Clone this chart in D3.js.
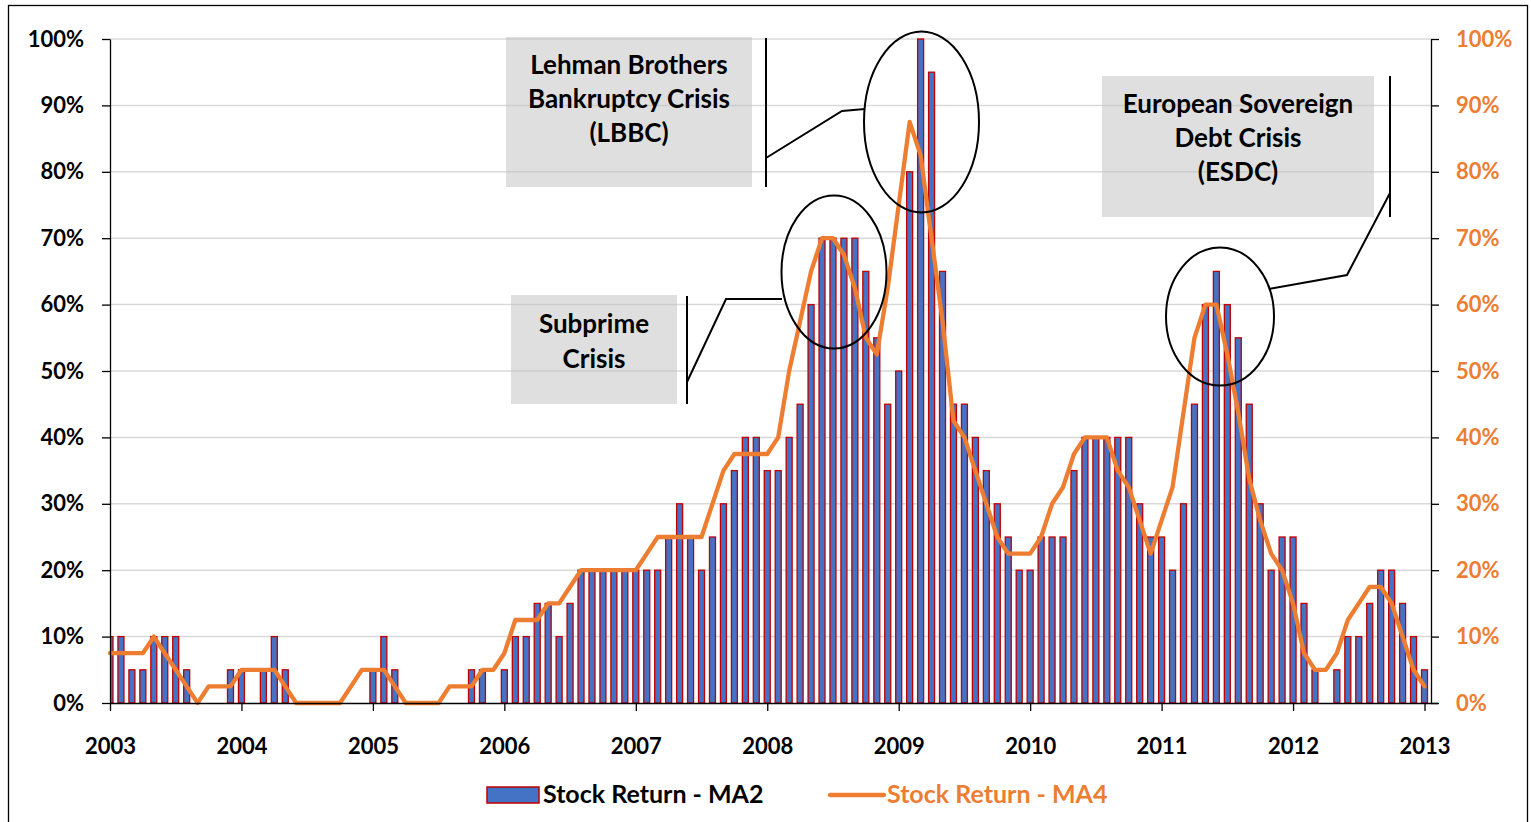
<!DOCTYPE html>
<html>
<head>
<meta charset="utf-8">
<script src="https://cdn.jsdelivr.net/npm/d3@7"></script>
<style>
  body { margin: 0; background: #fff; }
  svg { display: block; font-family: Lato, "Open Sans", sans-serif; font-weight: bold; }
</style>
</head>
<body>
<div id="grafico"></div>
<script>
// 1. Datos (mensual, ene 2003 - ene 2013)
YEARS = ['2003','2004','2005','2006','2007','2008','2009','2010','2011','2012','2013']
PCT_TICKS = [0, 0.1, 0.2, 0.3, 0.4, 0.5, 0.6, 0.7, 0.8, 0.9, 1.0]

MA2 = [
  10,10,5,5,10,10,10,5,0,0,0,5,          // 2003
  5,0,5,10,5,0,0,0,0,0,0,0,              // 2004
  5,10,5,0,0,0,0,0,0,5,5,0,              // 2005
  5,10,10,15,15,10,15,20,20,20,20,20,    // 2006
  20,20,20,25,30,25,20,25,30,35,40,40,   // 2007
  35,35,40,45,60,70,70,70,70,65,55,45,   // 2008
  50,80,100,95,65,45,45,40,35,30,25,20,  // 2009
  20,25,25,25,35,40,40,40,40,40,30,25,   // 2010
  25,20,30,45,60,65,60,55,45,30,20,25,   // 2011
  25,15,5,0,5,10,10,15,20,20,15,10,      // 2012
  5                                      // 2013
]

MA4 = [
  7.5,7.5,7.5,7.5,10,7.5,5,2.5,0,2.5,2.5,2.5,
  5,5,5,5,2.5,0,0,0,0,0,2.5,5,
  5,5,2.5,0,0,0,0,2.5,2.5,2.5,5,5,
  7.5,12.5,12.5,12.5,15,15,17.5,20,20,20,20,20,
  20,22.5,25,25,25,25,25,30,35,37.5,37.5,37.5,
  37.5,40,50,57.5,65,70,70,67.5,62.5,55,52.5,62.5,
  75,87.5,82.5,70,57.5,42.5,40,35,30,25,22.5,22.5,
  22.5,25,30,32.5,37.5,40,40,40,35,32.5,27.5,22.5,
  27.5,32.5,43.75,55,60,60,52.5,43.75,33.75,27.5,22.5,20,
  15,7.5,5,5,7.5,12.5,15,17.5,17.5,15,10,5,
  2.5
]

SERIES_NAMES = ['Stock Return - MA2', 'Stock Return - MA4']

ANOTACIONES = [
  { lineas: ['Lehman Brothers', 'Bankruptcy Crisis', '(LBBC)'] },
  { lineas: ['Subprime', 'Crisis'] },
  { lineas: ['European Sovereign', 'Debt Crisis', '(ESDC)'] }
]

// 2. Configuración
COLOR_BARRA   = '#4472C4'
COLOR_BORDE   = '#C00000'
COLOR_LINEA   = '#ED7D31'
COLOR_GRID    = '#D9D9D9'
ANCHO_TOTAL   = 1531
ALTO_TOTAL    = 822

margins = { top: 39, left: 110, right: 1431, bottom: 703 }

svg = d3.select('#grafico').append('svg')
  .attr('width', ANCHO_TOTAL)
  .attr('height', ALTO_TOTAL)

fx = d3.scaleLinear().domain([0, 120]).range([margins.left, 1424.5])
fy = d3.scaleLinear().domain([0, 1]).range([margins.bottom, margins.top])

// borde exterior
svg.append('rect')
  .attr('x', 8.5).attr('y', 5.5)
  .attr('width', 1519).attr('height', 830)
  .attr('fill', 'none').attr('stroke', '#000').attr('stroke-width', 1.3)

// clip del area de trazado
svg.append('clipPath').attr('id', 'clipPlot')
  .append('rect')
  .attr('x', margins.left).attr('y', 0)
  .attr('width', margins.right - margins.left).attr('height', margins.bottom + 1)

// 3. Grid
svg.append('g').selectAll('line')
  .data(PCT_TICKS.slice(1))
  .enter().append('line')
  .attr('x1', margins.left).attr('x2', margins.right)
  .attr('y1', d => fy(d)).attr('y2', d => fy(d))
  .attr('stroke', COLOR_GRID).attr('stroke-width', 1.5)

// 4. Barras MA2
g_barras = svg.append('g').attr('clip-path', 'url(#clipPlot)')
g_barras.selectAll('rect')
  .data(MA2)
  .enter().append('rect')
  .attr('x', (d, i) => fx(i) - 3)
  .attr('y', d => fy(d / 100))
  .attr('width', 6)
  .attr('height', d => fy(0) - fy(d / 100))
  .attr('fill', COLOR_BARRA)
  .attr('stroke', COLOR_BORDE)
  .attr('stroke-width', d => d > 0 ? 1.3 : 0)

// 5. Linea MA4
linea = d3.line()
  .x((d, i) => fx(i))
  .y(d => fy(d / 100))

svg.append('path')
  .datum(MA4)
  .attr('d', linea)
  .attr('fill', 'none')
  .attr('stroke', COLOR_LINEA)
  .attr('stroke-width', 4.3)
  .attr('stroke-linejoin', 'round')
  .attr('stroke-linecap', 'round')

// 6. Ejes
fmt = d3.format('.0%')

ejeY = svg.append('g')
  .attr('transform', `translate(${margins.left},0)`)
  .call(d3.axisLeft(fy).tickValues(PCT_TICKS).tickFormat(fmt).tickSize(8).tickSizeOuter(0).tickPadding(18))
ejeY.selectAll('text').attr('font-size', 22).attr('fill', '#000')
  .attr('font-family', 'Lato').attr('font-weight', 'bold')

ejeY2 = svg.append('g')
  .attr('transform', `translate(${margins.right},0)`)
  .call(d3.axisRight(fy).tickValues(PCT_TICKS).tickFormat(fmt).tickSize(8).tickSizeOuter(0).tickPadding(17))
ejeY2.selectAll('text').attr('font-size', 22).attr('fill', COLOR_LINEA)
  .attr('font-family', 'Lato').attr('font-weight', 'bold')

ejeX = svg.append('g')
  .attr('transform', `translate(0,${margins.bottom})`)
  .call(d3.axisBottom(fx).tickValues(YEARS.map((y, k) => k * 12))
    .tickFormat((d, k) => YEARS[k]).tickSize(8).tickSizeOuter(0).tickPadding(27))
ejeX.select('.domain').attr('d', `M${margins.left},0.5H${margins.right + 7}`)
ejeX.selectAll('text').attr('font-size', 22).attr('fill', '#000')
  .attr('font-family', 'Lato').attr('font-weight', 'bold')

svg.selectAll('.domain, .tick line').attr('stroke', '#000').attr('stroke-width', 1.3)

// 7. Anotaciones
cajas = [
  { x: 506, y: 37,  w: 246, h: 150, cx: 629,  base: 74,  paso: 34 },
  { x: 511, y: 295, w: 166, h: 109, cx: 594,  base: 333, paso: 35 },
  { x: 1102, y: 76, w: 272, h: 141, cx: 1238, base: 113, paso: 34 }
]
g_anot = svg.append('g')
cajas.forEach((c, k) => {
  g_anot.append('rect')
    .attr('x', c.x).attr('y', c.y).attr('width', c.w).attr('height', c.h)
    .attr('fill', '#BFBFBF').attr('fill-opacity', 0.5)
  g_anot.selectAll(null)
    .data(ANOTACIONES[k].lineas)
    .enter().append('text')
    .attr('x', c.cx)
    .attr('y', (d, j) => c.base + j * c.paso)
    .attr('text-anchor', 'middle')
    .attr('font-size', 26)
    .attr('fill', '#000')
    .text(d => d)
})

conectores = [
  [[766, 38], [766, 187]],
  [[766, 158], [842, 111], [865, 109]],
  [[687, 296], [687, 404]],
  [[687, 382], [726, 299], [782, 299]],
  [[1390, 76], [1390, 217]],
  [[1390, 193], [1347, 275], [1269, 289]]
]
g_anot.selectAll('path.con')
  .data(conectores)
  .enter().append('path')
  .attr('class', 'con')
  .attr('d', d => d3.line()(d))
  .attr('fill', 'none').attr('stroke', '#000').attr('stroke-width', 2)

elipses = [
  { cx: 921.5, cy: 122, rx: 57.5, ry: 90.5 },
  { cx: 834,   cy: 272, rx: 52.5, ry: 76.5 },
  { cx: 1220,  cy: 316.5, rx: 54, ry: 69 }
]
g_anot.selectAll('ellipse')
  .data(elipses)
  .enter().append('ellipse')
  .attr('cx', d => d.cx).attr('cy', d => d.cy)
  .attr('rx', d => d.rx).attr('ry', d => d.ry)
  .attr('fill', 'none').attr('stroke', '#000').attr('stroke-width', 2)

// 8. Leyenda
g_ley = svg.append('g')
g_ley.append('rect')
  .attr('x', 487).attr('y', 787).attr('width', 52).attr('height', 16)
  .attr('fill', COLOR_BARRA).attr('stroke', COLOR_BORDE).attr('stroke-width', 1.5)
g_ley.append('text')
  .attr('x', 543).attr('y', 803)
  .attr('font-size', 25).attr('fill', '#000')
  .text(SERIES_NAMES[0])
g_ley.append('line')
  .attr('x1', 830).attr('x2', 884).attr('y1', 795).attr('y2', 795)
  .attr('stroke', COLOR_LINEA).attr('stroke-width', 4.3).attr('stroke-linecap', 'round')
g_ley.append('text')
  .attr('x', 887).attr('y', 803)
  .attr('font-size', 25).attr('fill', COLOR_LINEA)
  .text(SERIES_NAMES[1])
</script>
</body>
</html>
